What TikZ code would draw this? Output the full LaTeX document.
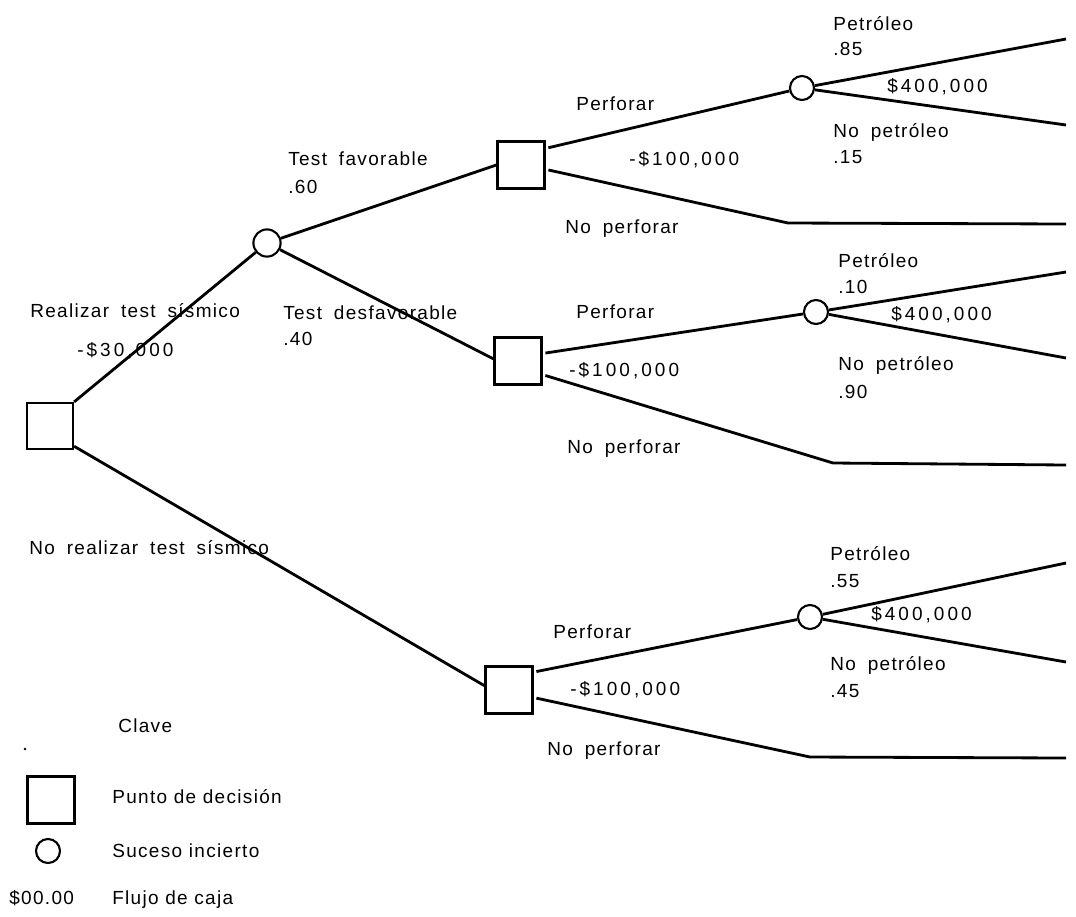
\documentclass[tikz,border=0pt]{standalone}
\usepackage{fontspec}
\setmainfont{Liberation Sans}[LetterSpace=7, WordSpace=1.8]
\newfontfamily\keyfont{Liberation Sans}[LetterSpace=7]
\newfontfamily\numfont{Liberation Sans}[LetterSpace=16]
\begin{document}
\begin{tikzpicture}[x=0.025cm,y=-0.025cm,
  decision/.style={draw, line width=1.6pt, minimum size=1.15cm, inner sep=0pt},
  chance/.style={draw, circle, line width=1.5pt, minimum size=0.6cm, inner sep=0pt},
  branch/.style={line width=2pt, line join=round},
  fromsq/.style={branch, shorten <=2pt},
  lbl/.style={anchor=base west, inner sep=0pt, font=\fontsize{13.5}{16}\selectfont},
  money/.style={lbl, font=\fontsize{13.5}{16}\selectfont\numfont},
  keylbl/.style={lbl, font=\fontsize{13.5}{16}\selectfont\keyfont}]
\useasboundingbox (0,0) rectangle (1076,916);

% labels (drawn first so that branches run over them)
\node[lbl] (l1) at (833,30) {Petróleo};
\node[lbl] (l2) at (833,55) {.85};
\node[money] (l3) at (887,92) {\$400,000};
\node[lbl] (l4) at (833,137) {No petróleo};
\node[lbl] (l5) at (833,163) {.15};
\node[lbl] (l6) at (576,110) {Perforar};
\node[money] (l7) at (629,165) {-\$100,000};
\node[lbl] (l8) at (565,233) {No perforar};
\node[lbl] (l9) at (288,165) {Test favorable};
\node[lbl] (l10) at (288,193) {.60};
\node[lbl] (l11) at (283,319) {Test desfavorable};
\node[lbl] (l12) at (283,345) {.40};
\node[lbl] (l13) at (30,317) {Realizar test sísmico};
\node[money] (l14) at (77,356) {-\$30,000};
\node[lbl] (l15) at (838,267) {Petróleo};
\node[lbl] (l16) at (838,293) {.10};
\node[money] (l17) at (891,320) {\$400,000};
\node[lbl] (l18) at (838,370) {No petróleo};
\node[lbl] (l19) at (838,398) {.90};
\node[lbl] (l20) at (576,318) {Perforar};
\node[money] (l21) at (569,376) {-\$100,000};
\node[lbl] (l22) at (567,453) {No perforar};
\node[lbl] (l23) at (29,554) {No realizar test sísmico};
\node[lbl] (l24) at (553,638) {Perforar};
\node[money] (l25) at (570,695) {-\$100,000};
\node[lbl] (l26) at (547,755) {No perforar};
\node[lbl] (l27) at (830,560) {Petróleo};
\node[lbl] (l28) at (830,587) {.55};
\node[money] (l29) at (871,620) {\$400,000};
\node[lbl] (l30) at (830,670) {No petróleo};
\node[lbl] (l31) at (830,697) {.45};

% decision points and chance events
\node[decision] (root) at (50,426) {};
\node[chance, minimum size=0.68cm] (c1) at (267,243) {};
\node[decision, minimum size=1.175cm] (d1) at (521,165) {};
\node[decision, minimum size=1.175cm] (d2) at (518,361) {};
\node[decision, minimum size=1.175cm] (d3) at (509,690) {};
\node[chance] (e1) at (802,88) {};
\node[chance] (e2) at (816,312) {};
\node[chance] (e3) at (810,617) {};

% branch end points
\coordinate (t1a) at (1066,39);
\coordinate (t1b) at (1066,125);
\coordinate (k1) at (788,223);
\coordinate (t1c) at (1066,224);
\coordinate (t2a) at (1066,272);
\coordinate (t2b) at (1066,358);
\coordinate (k2) at (833,463);
\coordinate (t2c) at (1066,465);
\coordinate (t3a) at (1066,563);
\coordinate (t3b) at (1066,662);
\coordinate (k3) at (810,757);
\coordinate (t3c) at (1066,758);

% branches
\draw[branch] (root.north east) -- (c1);
\draw[branch] (root.-40) -- (d3.170);
\draw[branch] (c1) -- (d1.west);
\draw[branch] (c1) -- (d2.175);
\draw[fromsq] (d1.34) -- (e1);
\draw[fromsq] (d1.-10) -- (k1) -- (t1c);
\draw[branch] (e1) -- (t1a);
\draw[branch] (e1) -- (t1b);
\draw[fromsq] (d2.17) -- (e2);
\draw[fromsq] (d2.-29) -- (k2) -- (t2c);
\draw[branch] (e2) -- (t2a);
\draw[branch] (e2) -- (t2b);
\draw[fromsq] (d3.36) -- (e3);
\draw[fromsq] (d3.-17) -- (k3) -- (t3c);
\draw[branch] (e3) -- (t3a);
\draw[branch] (e3) -- (t3b);

% key
\node[keylbl] (k0) at (118,732) {Clave};
\fill (25,749) circle (1.3);
\node[decision, minimum size=1.175cm] (kd) at (51,800) {};
\node[chance] (kc) at (48,851) {};
\node[keylbl] (kt1) at (112,803) {Punto de decisión};
\node[keylbl] (kt2) at (112,857) {Suceso incierto};
\node[keylbl] (kt3) at (9,904) {\$00.00};
\node[keylbl] (kt4) at (112,904) {Flujo de caja};
\end{tikzpicture}
\end{document}
